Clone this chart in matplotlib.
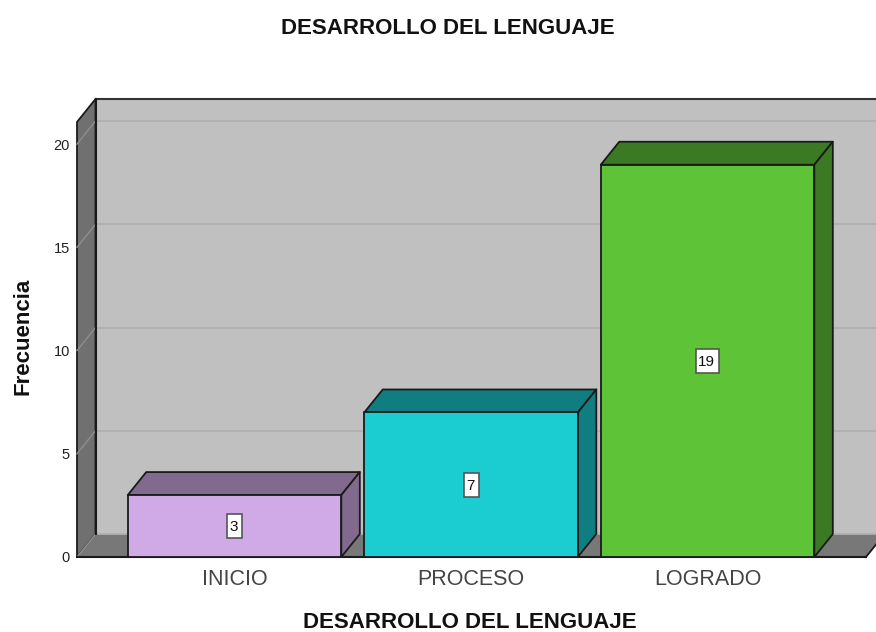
import matplotlib
matplotlib.use("Agg")
import matplotlib.pyplot as plt
from matplotlib.patches import Polygon, Rectangle

plt.rcParams['font.family'] = ['Liberation Sans', 'DejaVu Sans']

# Datos
categorias = ["INICIO", "PROCESO", "LOGRADO"]
frecuencia = [3, 7, 19]
ticks_y = [0, 5, 10, 15, 20]
titulo = "DESARROLLO DEL LENGUAJE"
etiqueta_y = "Frecuencia"

col_frente = ["#d0aae6", "#1bcdd0", "#5ec337"]
col_lado = ["#826a8f", "#107e80", "#3b7a23"]

W, H = 876, 632
fig = plt.figure(figsize=(W / 100, H / 100), dpi=100)
ax = fig.add_axes([77 / W, 1 - 557 / H, (866 - 77) / W, (557 - 122) / H])

# Escalas: 236.5 px por categoria, 20.65 px por unidad
px_x = 236.5
px_y = 20.65
xmin, xmax = -0.666, 2.67
ymax = 21.07
ax.set_xlim(xmin, xmax)
ax.set_ylim(0, ymax)
ax.axis("off")

dx = 18.5 / px_x  # profundidad 3D
dy = 23 / px_y
linea = "#1a1a1a"


def poly(pts, color, lw=1.3, z=1, edge=linea):
    ax.add_patch(Polygon(pts, closed=True, facecolor=color, edgecolor=edge,
                         linewidth=lw, zorder=z, clip_on=False, joinstyle="round"))


# Paredes
poly([(xmin + dx, dy), (xmax + dx, dy), (xmax + dx, ymax + dy), (xmin + dx, ymax + dy)],
     "#c0c0c0", lw=0, z=1, edge="none")
poly([(xmin, 0), (xmin + dx, dy), (xmin + dx, ymax + dy), (xmin, ymax)], "#707070", z=2)
poly([(xmin, 0), (xmax, 0), (xmax + dx, dy), (xmin + dx, dy)], "#787878", lw=0, z=2, edge="none")

# Rejilla
for t in ticks_y:
    ax.plot([xmin + dx, xmax + dx], [t + dy] * 2, color="#b0b0b0", lw=1.3, zorder=2, clip_on=False)
    ax.plot([xmin, xmin + dx], [t, t + dy], color="#8e8e8e", lw=1.0, zorder=3, clip_on=False)
    ax.text(xmin - 7 / px_x, t - 1.5 / px_y, str(t), ha="right", va="center", fontsize=10.5, color="#222222")

# Lineas de la pared trasera y del suelo
ax.plot([xmin + dx, xmax + dx], [ymax + dy] * 2, color="#333333", lw=1.5, zorder=3, clip_on=False)
ax.plot([xmin + dx, xmin + dx], [dy, ymax + dy], color=linea, lw=1.5, zorder=3, clip_on=False)
ax.plot([xmin, xmax], [0, 0], color=linea, lw=1.5, zorder=4, clip_on=False)
ax.plot([xmax, xmax + dx], [0, dy], color=linea, lw=1.3, zorder=4, clip_on=False)

# Barras
ancho = 0.903
for i, v in enumerate(frecuencia):
    x0, x1 = i - ancho / 2, i + ancho / 2
    poly([(x0, v), (x1, v), (x1 + dx, v + dy), (x0 + dx, v + dy)], col_lado[i], z=5)
    poly([(x1, 0), (x1 + dx, dy), (x1 + dx, v + dy), (x1, v)], col_lado[i], z=5)
    poly([(x0, 0), (x1, 0), (x1, v), (x0, v)], col_frente[i], z=6)
    # Etiqueta de valor en su caja estrecha y alta
    w = (7 + 8 * len(str(v))) / px_x
    h = 24 / px_y
    ax.add_patch(Rectangle((i - w / 2, v / 2 - h / 2), w, h, facecolor="white",
                           edgecolor="#555555", linewidth=1.2, zorder=7))
    ax.text(i - 1 / px_x, v / 2 - 1 / px_y, str(v), ha="center", va="center", fontsize=11, color="#111111", zorder=8)
    ax.text(i, -23 / px_y, categorias[i], ha="center", va="center", fontsize=15.5, color="#444444")

fig.text(448 / W, 1 - 28 / H, titulo, ha="center", va="center", fontsize=16, fontweight="bold", color="#111111")
fig.text(470 / W, 1 - 623 / H, titulo, ha="center", va="center", fontsize=16, fontweight="bold", color="#111111")
fig.text(23 / W, 1 - 336 / H, etiqueta_y, ha="center", va="center", rotation=90, fontsize=16,
         fontweight="bold", color="#111111")

fig.savefig("out.png", dpi=100)
